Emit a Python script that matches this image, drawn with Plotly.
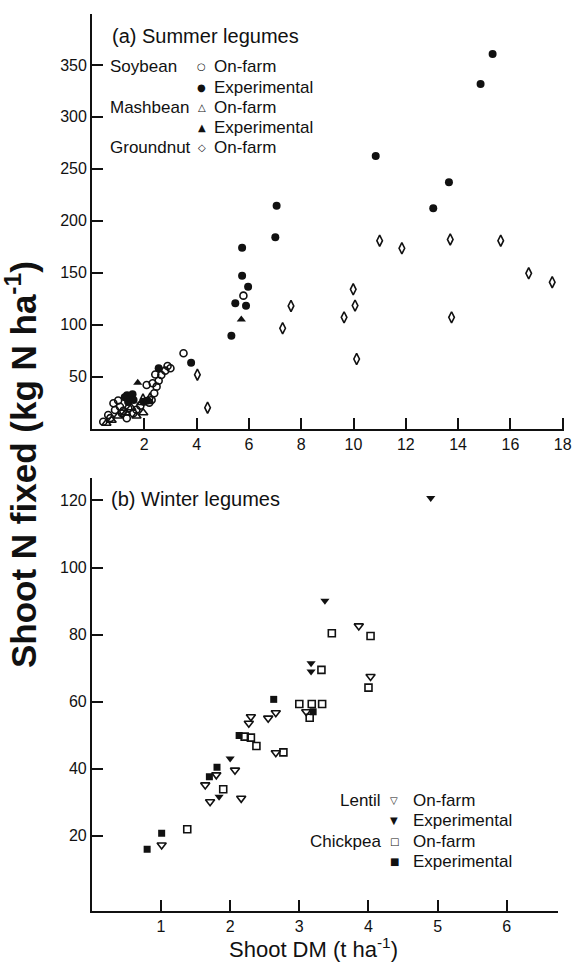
import plotly.graph_objects as go

W, H = 574, 963

# ---------------- Panel (a): summer legumes ----------------
soy_on_x = [0.43, 0.62, 0.70, 0.82, 0.88, 1.00, 1.07, 1.14, 1.20, 1.33, 1.39, 1.58, 1.70, 1.85,
            2.09, 2.19, 2.28, 2.32, 2.38, 2.42, 2.47, 2.55, 2.65, 2.80, 2.89, 3.00, 3.50, 5.79]
soy_on_y = [6.5, 13.0, 10.0, 24.3, 17.8, 27.0, 21.0, 14.6, 17.0, 9.8, 19.4, 14.6, 18.0, 22.0,
            41.9, 24.9, 27.4, 43.5, 33.9, 52.0, 40.3, 46.0, 51.5, 55.7, 60.2, 58.0, 72.4, 127.9]

soy_ex_x = [1.25, 1.34, 1.38, 1.47, 1.55, 1.59, 1.98, 2.10, 2.55, 3.79, 5.33, 5.48, 5.74, 5.74,
            5.89, 5.97, 7.01, 7.06, 10.85, 13.05, 13.65, 14.86, 15.32]
soy_ex_y = [30.0, 32.0, 25.8, 29.0, 33.0, 27.4, 25.8, 26.8, 58.0, 63.4, 89.4, 120.5, 147.0, 174.0,
            118.2, 136.5, 184.0, 214.5, 262.4, 212.0, 237.0, 331.7, 360.6]

mash_on_x = [0.55, 0.75, 1.00, 1.30, 1.50, 1.70, 1.90, 1.96, 2.15]
mash_on_y = [5.0, 8.0, 12.0, 15.0, 20.0, 12.0, 25.0, 15.2, 27.0]

mash_ex_x = [1.25, 1.75, 5.71]
mash_ex_y = [31.0, 44.1, 105.0]

gnut_x = [1.95, 2.22, 4.03, 4.42, 7.29, 7.61, 9.64, 9.99, 10.06, 10.12, 11.00, 11.85, 13.70,
          13.75, 15.63, 16.70, 17.60]
gnut_y = [28.0, 29.0, 51.8, 20.0, 96.5, 118.0, 107.0, 134.0, 118.3, 66.9, 180.8, 173.5, 182.0,
          107.0, 180.8, 149.4, 140.8]

a_xticks = [2, 4, 6, 8, 10, 12, 14, 16, 18]
a_yticks = [50, 100, 150, 200, 250, 300, 350]

# ---------------- Panel (b): winter legumes ----------------
lent_on_x = [1.01, 1.64, 1.71, 1.80, 2.07, 2.16, 2.27, 2.30, 2.55, 2.66, 2.66, 3.10, 3.86, 4.03]
lent_on_y = [17.3, 35.2, 30.2, 38.2, 39.6, 31.2, 53.6, 55.5, 55.1, 56.7, 44.8, 57.0, 82.6, 67.5]

lent_ex_x = [1.84, 2.00, 3.17, 3.17, 3.37, 4.90]
lent_ex_y = [31.7, 43.1, 71.5, 69.0, 90.1, 120.7]

chick_on_x = [1.38, 1.90, 2.21, 2.30, 2.38, 2.77, 3.00, 3.15, 3.18, 3.32, 3.33, 3.47, 4.00, 4.03]
chick_on_y = [22.0, 33.9, 49.6, 49.3, 46.8, 44.9, 59.3, 55.2, 59.3, 69.5, 59.3, 80.4, 64.2, 79.6]

chick_ex_x = [0.80, 1.01, 1.70, 1.81, 2.13, 2.63, 3.20]
chick_ex_y = [16.0, 20.8, 37.6, 40.5, 49.9, 60.7, 57.0]

b_xticks = [1, 2, 3, 4, 5, 6]
b_yticks = [20, 40, 60, 80, 100, 120]

FONT = "Liberation Sans, Arial, sans-serif"
INK = "#111111"


def px(x):
    return x / W


def py(y):
    return 1 - y / H


fig = go.Figure()


def add(xs, ys, symbol, size, axes, filled):
    xa, ya = axes
    fig.add_trace(go.Scatter(
        x=xs, y=ys, mode="markers", xaxis=xa, yaxis=ya, showlegend=False,
        marker=dict(symbol=symbol, size=size, color=INK,
                    line=dict(color=INK, width=1.6 if not filled else 0))))


A = ("x", "y")
B = ("x2", "y2")
add(soy_on_x, soy_on_y, "circle-open", 7, A, False)
add(soy_ex_x, soy_ex_y, "circle", 8, A, True)
add(mash_on_x, mash_on_y, "triangle-up-open", 8, A, False)
add(mash_ex_x, mash_ex_y, "triangle-up", 8, A, True)
add(gnut_x, gnut_y, "diamond-tall-open", 8, A, False)

add(lent_on_x, lent_on_y, "triangle-down-open", 8, B, False)
add(lent_ex_x, lent_ex_y, "triangle-down", 8, B, True)
add(chick_on_x, chick_on_y, "square-open", 7, B, False)
add(chick_ex_x, chick_ex_y, "square", 7, B, True)

axis_common = dict(showline=True, linecolor=INK, linewidth=1.8, ticks="inside", ticklen=11,
                   tickwidth=1.5, tickcolor=INK, showgrid=False, zeroline=False,
                   automargin=False,
                   tickfont=dict(family=FONT, size=16, color=INK), mirror=False)

fig.update_layout(
    template="none",
    width=W, height=H, margin=dict(l=0, r=0, t=0, b=0, pad=0, autoexpand=False),
    paper_bgcolor="white", plot_bgcolor="white",
    xaxis=dict(domain=[px(92), px(564)], range=[0, 18.05], anchor="y",
               tickvals=a_xticks, **axis_common),
    yaxis=dict(domain=[py(428.5), py(14)], range=[0, 399], anchor="x",
               tickvals=a_yticks, **axis_common),
    xaxis2=dict(domain=[px(91.8), px(558)], range=[0, 6.74], anchor="y2",
                tickvals=b_xticks, **axis_common),
    yaxis2=dict(domain=[py(910.7), py(478.3)], range=[-2.3, 126.6], anchor="x2",
                tickvals=b_yticks, **axis_common),
)

ann = []


def text(x, y, s, size, xanchor="left", yanchor="middle", angle=0, fam=FONT):
    ann.append(dict(x=px(x), y=py(y), xref="paper", yref="paper", text=s, showarrow=False,
                    xanchor=xanchor, yanchor=yanchor, textangle=angle, borderpad=0,
                    font=dict(family=fam, size=size, color=INK)))


# panel titles
text(110.5, 36, "(a) Summer legumes", 20)
text(110, 499.3, "(b) Winter legumes", 20)

# legend (a)
rows_a = [66.7, 87.0, 107.7, 127.3, 147.3]
groups_a = [("Soybean", 0), ("Mashbean", 2), ("Groundnut", 4)]
glyphs_a = ["○", "●", "△", "▲", "◇"]
labels_a = ["On-farm", "Experimental", "On-farm", "Experimental", "On-farm"]
for name, r in groups_a:
    text(109.3, rows_a[r], name, 17)
for g, lab, r in zip(glyphs_a, labels_a, rows_a):
    text(201.7, r, g, 10, xanchor="center", fam="DejaVu Sans")
    text(213.3, r, lab, 17)

# legend (b)
rows_b = [800.7, 820.7, 841.0, 861.0]
groups_b = [("Lentil", 0), ("Chickpea", 2)]
glyphs_b = ["▽", "▼", "□", "■"]
labels_b = ["On-farm", "Experimental", "On-farm", "Experimental"]
for name, r in groups_b:
    text(382, rows_b[r], name, 17, xanchor="right")
for g, lab, r in zip(glyphs_b, labels_b, rows_b):
    text(394, r, g, 10, xanchor="center", fam="DejaVu Sans")
    text(411.7, r, lab, 17)

# axis titles
text(21, 465, "<b>Shoot N fixed (kg N ha<sup>-1</sup>)</b>", 35, xanchor="center", angle=-90)
text(313, 963, "Shoot DM (t ha<sup>-1</sup>)", 22, xanchor="center", yanchor="bottom")

fig.update_layout(annotations=ann)
fig.write_html(
    "out.html",
    config={"displayModeBar": False},
    post_script="document.body.style.margin='0px';document.body.style.padding='0px';"
                "document.documentElement.style.overflow='hidden';",
)
